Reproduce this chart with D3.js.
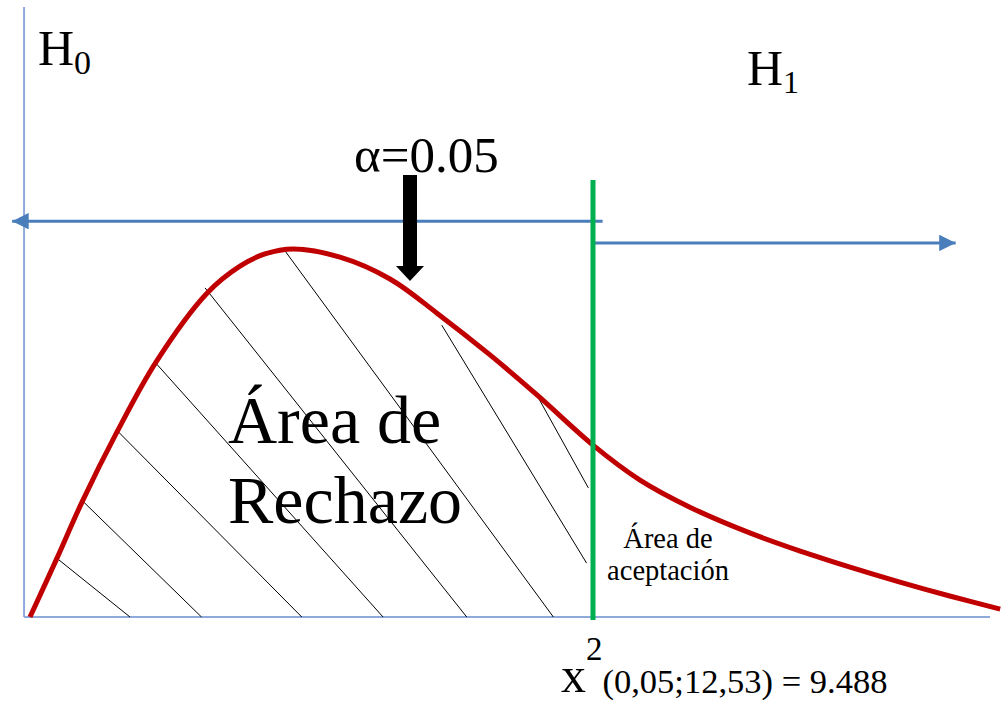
<!DOCTYPE html>
<html>
<head>
<meta charset="utf-8">
<script src="https://cdn.jsdelivr.net/npm/d3@7"></script>
<style>
  body { margin: 0; background: #fff; }
</style>
</head>
<body>
<div id="chart"></div>
<script>
// curve: chi-square value, density
let curveX = [0, 0.455, 0.876, 1.466, 2.123, 2.983, 3.539, 3.960, 4.432, 5.224, 6.067, 6.859, 7.752, 8.544, 9.488, 10.28, 11.12, 12.13, 12.98, 13.82, 14.66, 15.50, 16.35];
let curveY = [0, 0.0224, 0.0437, 0.0704, 0.0970, 0.1232, 0.1335, 0.1381, 0.1400, 0.1369, 0.1286, 0.1156, 0.0997, 0.0845, 0.0654, 0.0521, 0.0418, 0.0320, 0.0251, 0.0190, 0.0133, 0.0080, 0.0030];

// hatch segments in the rejection area: [x1, y1, x2, y2]
let hatch = [
  [0.45, 0.0224, 1.685, 0],
  [0.87, 0.0445, 2.89, 0],
  [1.46, 0.0711, 4.58, 0],
  [2.12, 0.0966, 5.95, 0],
  [2.95, 0.1252, 7.36, 0],
  [4.30, 0.1392, 8.82, 0],
  [6.94, 0.1110, 9.38, 0.0205],
  [8.54, 0.0845, 9.41, 0.0491]
];

let critical = 9.488;
let alpha = 0.05;

let serif = "'Liberation Serif', 'Times New Roman', Times, 'DejaVu Serif', serif";

let svg = d3.select("#chart").append("svg").attr("width", 1005).attr("height", 703)
  .attr("font-family", serif);
let x = d3.scaleLinear().domain([0, critical]).range([30, 593]);
let y = d3.scaleLinear().domain([0, 0.14]).range([617, 249]);

let axisColor = "#8eaadb";
let arrowColor = "#4a7ebb";

let defs = svg.append("defs");
defs.append("marker").attr("id", "blueHead")
  .attr("viewBox", "0 0 10 10").attr("refX", 10).attr("refY", 5)
  .attr("markerWidth", 5.5).attr("markerHeight", 5.5).attr("orient", "auto-start-reverse")
  .attr("markerUnits", "strokeWidth")
  .append("path").attr("d", "M0,0 L10,5 L0,10 Z").attr("fill", arrowColor);

// axes
svg.append("line").attr("x1", x(-0.1)).attr("x2", x(-0.1))
  .attr("y1", 7).attr("y2", y(0))
  .attr("stroke", axisColor).attr("stroke-width", 2);
svg.append("line").attr("x1", x(-0.1)).attr("x2", x(16.18))
  .attr("y1", y(0)).attr("y2", y(0))
  .attr("stroke", axisColor).attr("stroke-width", 2);

// hatching
svg.append("g").selectAll("line").data(hatch).join("line")
  .attr("x1", d => x(d[0])).attr("y1", d => y(d[1]))
  .attr("x2", d => x(d[2])).attr("y2", d => y(d[3]))
  .attr("stroke", "#000").attr("stroke-width", 1);

// H0 / H1 arrows
svg.append("line").attr("x1", x(9.65)).attr("x2", x(-0.3))
  .attr("y1", y(0.1506)).attr("y2", y(0.1506))
  .attr("stroke", arrowColor).attr("stroke-width", 3)
  .attr("marker-end", "url(#blueHead)");
svg.append("line").attr("x1", x(critical)).attr("x2", x(15.6))
  .attr("y1", y(0.1423)).attr("y2", y(0.1423))
  .attr("stroke", arrowColor).attr("stroke-width", 3)
  .attr("marker-end", "url(#blueHead)");

// density curve
let pts = curveX.map((v, i) => [v, curveY[i]]);
svg.append("path").datum(pts)
  .attr("d", d3.line().x(d => x(d[0])).y(d => y(d[1])).curve(d3.curveCatmullRom.alpha(0.5)))
  .attr("fill", "none").attr("stroke", "#c00000").attr("stroke-width", 5);

// critical value line
svg.append("line").attr("x1", x(critical)).attr("x2", x(critical))
  .attr("y1", 180).attr("y2", 620)
  .attr("stroke", "#00b050").attr("stroke-width", 5);

// alpha arrow
let ax = 410;
svg.append("path")
  .attr("d", `M${ax - 7},175 L${ax + 7},175 L${ax + 7},266 L${ax + 14},266 L${ax},281 L${ax - 14},266 L${ax - 7},266 Z`)
  .attr("fill", "#000");

// labels
let h0 = svg.append("text").attr("x", 38).attr("y", 65).attr("font-size", 50);
h0.append("tspan").text("H");
h0.append("tspan").attr("font-size", 34).attr("dy", 9).text("0");

let h1 = svg.append("text").attr("x", 747).attr("y", 85).attr("font-size", 50);
h1.append("tspan").text("H");
h1.append("tspan").attr("font-size", 32).attr("dy", 8).text("1");

svg.append("text").attr("x", 354).attr("y", 172).attr("font-size", 51).text("α=" + alpha.toFixed(2));

svg.append("text").attr("x", 228).attr("y", 443).attr("font-size", 68).text("Área de");
svg.append("text").attr("x", 228).attr("y", 523).attr("font-size", 68).text("Rechazo");

svg.append("text").attr("x", 668).attr("y", 548).attr("font-size", 28.5).attr("text-anchor", "middle").text("Área de");
svg.append("text").attr("x", 668).attr("y", 580).attr("font-size", 28.5).attr("text-anchor", "middle").text("aceptación");

let xl = svg.append("text").attr("x", 561).attr("y", 692).attr("font-size", 50);
xl.append("tspan").text("x");
xl.append("tspan").attr("font-size", 33).attr("dy", -32).text("2");
xl.append("tspan").attr("font-size", 34.5).attr("dy", 33).text("(0,05;12,53) = " + critical.toFixed(3));
</script>
</body>
</html>
